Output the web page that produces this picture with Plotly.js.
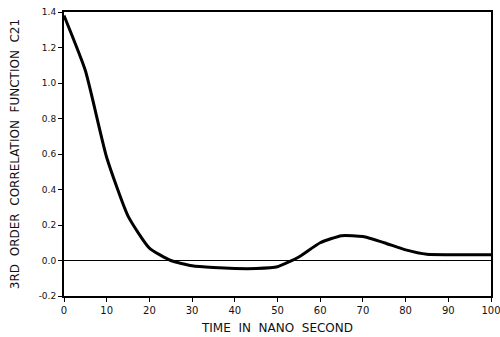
<!DOCTYPE html>
<html>
<head>
<meta charset="utf-8">
<script src="https://cdn.plot.ly/plotly-3.0.1.min.js"></script>
<style>html,body{margin:0;padding:0;background:#fff;}#chart{width:500px;height:337px;}</style>
</head>
<body>
<div id="chart"></div>
<script>
const timeNs = [0, 5, 10, 15, 20, 25, 30, 35, 40, 45, 50, 55, 60, 65, 70, 75, 80, 85, 90, 95, 100];
const c21 = [1.38, 1.07, 0.58, 0.25, 0.07, 0.0, -0.03, -0.04, -0.045, -0.045, -0.035, 0.02, 0.10, 0.14, 0.135, 0.10, 0.06, 0.035, 0.033, 0.033, 0.033];
const xTicks = [0, 10, 20, 30, 40, 50, 60, 70, 80, 90, 100];
const yTicks = [-0.2, 0.0, 0.2, 0.4, 0.6, 0.8, 1.0, 1.2, 1.4];

Plotly.newPlot("chart", [{
  x: timeNs, y: c21, mode: "lines", type: "scatter",
  line: {color: "#000", width: 3, shape: "spline", smoothing: 0.5},
  hoverinfo: "skip"
}], {
  width: 500, height: 337,
  margin: {l: 64, r: 9, t: 12, b: 41},
  paper_bgcolor: "#fff", plot_bgcolor: "#fff",
  showlegend: false,
  font: {family: "DejaVu Sans", size: 10, color: "#111"},
  xaxis: {
    range: [0, 100], tickvals: xTicks, ticktext: xTicks.map(String),
    showgrid: false, zeroline: false, showline: true, linecolor: "#000", linewidth: 2, mirror: true,
    ticks: "outside", ticklen: 4, tickcolor: "#000",
    ticklabeloverflow: "allow", automargin: false,
    tickfont: {family: "DejaVu Sans", size: 10, color: "#111"},
    title: {text: "TIME  IN  NANO  SECOND", font: {family: "DejaVu Sans", size: 12, color: "#111"}, standoff: 9}
  },
  yaxis: {
    range: [-0.2, 1.4], tickvals: yTicks, ticktext: yTicks.map(v => v.toFixed(1)),
    showgrid: false, zeroline: true, zerolinecolor: "#000", zerolinewidth: 1,
    showline: true, linecolor: "#000", linewidth: 2, mirror: true,
    ticks: "outside", ticklen: 4, tickcolor: "#000",
    tickfont: {family: "DejaVu Sans", size: 9, color: "#111"},
    title: {text: "3RD  ORDER  CORRELATION  FUNCTION  C21", font: {family: "DejaVu Sans", size: 12, color: "#111"}, standoff: 16}
  }
}, {displayModeBar: false, staticPlot: true});
</script>
</body>
</html>
